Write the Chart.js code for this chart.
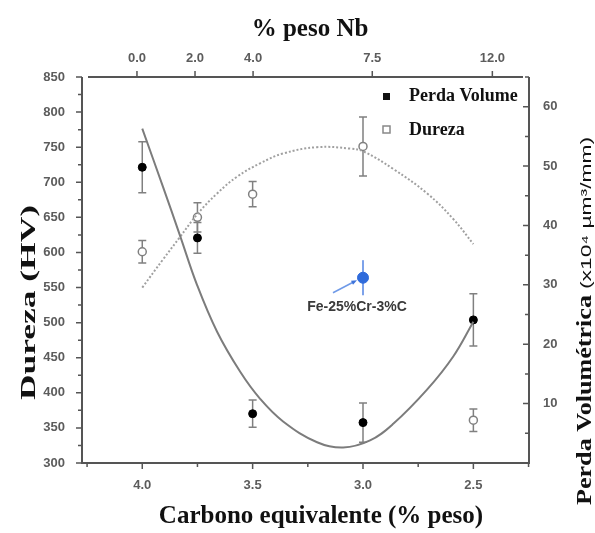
<!DOCTYPE html>
<html lang="pt">
<head>
<meta charset="UTF-8">
<title>Dureza e perda volumétrica vs carbono equivalente</title>
<script src="https://cdn.jsdelivr.net/npm/chart.js"></script>
<style>
  body { margin: 0; background: #fff; }
  canvas { display: block; }
</style>
</head>
<body>
<canvas id="grafico" width="595" height="533"></canvas>
<script>
// ligas ensaiadas: carbono equivalente (% peso)
const carbono = [4.0, 3.75, 3.5, 3.0, 2.5];
const perdaVolume = [49.8, 37.9, 8.3, 6.8, 24.1];   // x10^4 µm³/mm
const perdaErro = [4.3, 2.6, 2.3, 3.3, 4.4];
const dureza = [601, 650, 683, 751, 361];            // HV
const durezaErro = [16, 21, 18, 42, 16];

// liga de referência Fe-25%Cr-3%C
const refCarbono = [3.0];
const refDureza = [564];
const refErro = [25];

// curvas de ajuste
const ajustePerdaC = [4.0, 3.906, 3.829, 3.752, 3.661, 3.557, 3.466, 3.362, 3.208, 3.09, 2.968, 2.863, 2.709, 2.592, 2.5];
const ajustePerda = [56.3, 46.5, 38.3, 30.0, 22.1, 15.4, 10.8, 7.0, 3.5, 2.6, 3.8, 6.6, 12.4, 17.9, 23.8];
const ajusteDurezaC = [4.0, 3.906, 3.829, 3.752, 3.661, 3.57, 3.466, 3.362, 3.208, 3.058, 2.998, 2.863, 2.709, 2.592, 2.5];
const ajusteDureza = [550, 590, 622, 654, 684, 708, 727, 741, 750, 748, 744, 719, 684, 648, 612];

// eixos
const carbonoTicks = [4.0, 3.5, 3.0, 2.5];
const carbonoMenores = [4.25, 3.75, 3.25, 2.75, 2.25];
const nbRotulos = ['0.0', '2.0', '4.0', '7.5', '12.0'];
const nbCarbono = [4.024, 3.761, 3.498, 2.958, 2.414];
const durezaTicks = [300, 350, 400, 450, 500, 550, 600, 650, 700, 750, 800, 850];
const perdaTicks = [10, 20, 30, 40, 50, 60];
const perdaMenores = [5, 15, 25, 35, 45, 55, 65];

const pares = (xs, ys) => xs.map((x, i) => ({ x: x, y: ys[i] }));

const fonteTick = { family: 'Liberation Sans', size: 13, weight: 'bold' };
const corTick = '#5c5c5c';

// moldura e marcas dos eixos
const eixos = {
  id: 'eixos',
  beforeDatasetsDraw(chart) {
    const { ctx, chartArea: a, scales } = chart;
    ctx.save();
    ctx.strokeStyle = '#555';
    ctx.lineWidth = 2;
    ctx.beginPath();
    ctx.moveTo(a.left, a.top); ctx.lineTo(a.left, a.bottom);
    ctx.lineTo(a.right, a.bottom); ctx.lineTo(a.right, a.top);
    ctx.moveTo(a.left + 6, a.top); ctx.lineTo(a.right - 6, a.top);
    ctx.stroke();

    ctx.lineWidth = 1.5;
    ctx.beginPath();
    const marca = (x1, y1, x2, y2) => { ctx.moveTo(x1, y1); ctx.lineTo(x2, y2); };
    durezaTicks.forEach((v, i) => {
      const y = scales.y.getPixelForValue(v);
      marca(a.left, y, a.left - 6, y);
      if (i > 0) {
        const ym = scales.y.getPixelForValue((v + durezaTicks[i - 1]) / 2);
        marca(a.left, ym, a.left - 4, ym);
      }
    });
    perdaTicks.forEach(v => {
      const y = scales.y2.getPixelForValue(v);
      marca(a.right, y, a.right - 6, y);
    });
    perdaMenores.forEach(v => {
      const y = scales.y2.getPixelForValue(v);
      marca(a.right, y, a.right - 4, y);
    });
    carbonoTicks.forEach(v => {
      const x = scales.x.getPixelForValue(v);
      marca(x, a.bottom, x, a.bottom + 6);
    });
    carbonoMenores.forEach(v => {
      const x = scales.x.getPixelForValue(v);
      marca(x, a.bottom, x, a.bottom + 4);
    });
    nbCarbono.forEach(v => {
      const x = scales.x2.getPixelForValue(v);
      marca(x, a.top, x, a.top - 6);
    });
    ctx.stroke();
    ctx.restore();
  }
};

// barras de erro verticais
const barrasErro = {
  id: 'barrasErro',
  beforeDatasetsDraw(chart) {
    const ctx = chart.ctx;
    const sx = chart.scales.x;
    chart.data.datasets.forEach(ds => {
      if (!ds.erro) return;
      const sy = chart.scales[ds.yAxisID];
      ctx.save();
      ctx.strokeStyle = ds.corErro;
      ctx.lineWidth = ds.larguraErro;
      ctx.beginPath();
      ds.data.forEach((p, j) => {
        const x = sx.getPixelForValue(p.x);
        const y1 = sy.getPixelForValue(p.y + ds.erro[j]);
        const y2 = sy.getPixelForValue(p.y - ds.erro[j]);
        ctx.moveTo(x, y1); ctx.lineTo(x, y2);
        if (ds.capa) {
          ctx.moveTo(x - ds.capa, y1); ctx.lineTo(x + ds.capa, y1);
          ctx.moveTo(x - ds.capa, y2); ctx.lineTo(x + ds.capa, y2);
        }
      });
      ctx.stroke();
      ctx.restore();
    });
  }
};

function textoVertical(ctx, texto, fonte, xBase, yInicio, comprimento) {
  ctx.save();
  ctx.font = fonte;
  const w = ctx.measureText(texto).width;
  ctx.translate(xBase, yInicio);
  ctx.rotate(-Math.PI / 2);
  ctx.scale(comprimento / w, 1);
  ctx.textAlign = 'left';
  ctx.textBaseline = 'alphabetic';
  ctx.fillText(texto, 0, 0);
  ctx.restore();
}

// títulos, legenda e anotação da liga de referência
const textos = {
  id: 'textos',
  afterDraw(chart) {
    const { ctx, scales } = chart;
    ctx.save();
    ctx.fillStyle = '#111';
    ctx.font = 'bold 25px "Liberation Serif"';
    ctx.textAlign = 'center';
    ctx.textBaseline = 'alphabetic';
    ctx.fillText('% peso Nb', 310, 36);
    ctx.fillText('Carbono equivalente (% peso)', 321, 523);

    textoVertical(ctx, 'Dureza (HV)', 'bold 22px "Liberation Serif"', 35, 400, 195);
    textoVertical(ctx, 'Perda Volumétrica', 'bold 22px "Liberation Serif"', 591, 505, 210);
    textoVertical(ctx, '(x10⁴ µm³/mm)', '15px "Liberation Sans", "DejaVu Sans"', 591, 289, 152);

    // legenda
    ctx.textAlign = 'left';
    ctx.textBaseline = 'middle';
    ctx.font = 'bold 18px "Liberation Serif"';
    ctx.fillRect(383, 93, 7, 7);
    ctx.fillText('Perda Volume', 409, 96);
    ctx.strokeStyle = '#888';
    ctx.lineWidth = 1.5;
    ctx.strokeRect(383, 126, 7, 7);
    ctx.fillText('Dureza', 409, 130);

    // seta e rótulo Fe-25%Cr-3%C
    const px = scales.x.getPixelForValue(refCarbono[0]);
    const py = scales.y.getPixelForValue(refDureza[0]);
    ctx.strokeStyle = '#6f9ae8';
    ctx.fillStyle = '#3f74db';
    ctx.lineWidth = 1.5;
    ctx.beginPath();
    ctx.moveTo(px - 30, py + 15);
    ctx.lineTo(px - 9, py + 4);
    ctx.stroke();
    ctx.beginPath();
    ctx.moveTo(px - 6, py + 2.5);
    ctx.lineTo(px - 12, py + 3);
    ctx.lineTo(px - 10, py + 7);
    ctx.closePath();
    ctx.fill();

    ctx.fillStyle = '#3a3a3a';
    ctx.font = 'bold 14px "Liberation Sans"';
    ctx.textAlign = 'center';
    ctx.fillText('Fe-25%Cr-3%C', px - 6, py + 29);
    ctx.restore();
  }
};

new Chart(document.getElementById('grafico'), {
  type: 'scatter',
  data: {
    datasets: [
      {
        label: 'Ajuste perda',
        data: pares(ajustePerdaC, ajustePerda),
        yAxisID: 'y2',
        showLine: true,
        pointRadius: 0,
        borderColor: '#7c7c7c',
        borderWidth: 2,
        tension: 0.4
      },
      {
        label: 'Ajuste dureza',
        data: pares(ajusteDurezaC, ajusteDureza),
        yAxisID: 'y',
        showLine: true,
        pointRadius: 0,
        borderColor: '#a0a0a0',
        borderWidth: 2,
        borderDash: [2, 2],
        tension: 0.4
      },
      {
        label: 'Perda Volume',
        data: pares(carbono, perdaVolume),
        yAxisID: 'y2',
        pointRadius: 4,
        pointBackgroundColor: '#000',
        pointBorderColor: '#000',
        erro: perdaErro, corErro: '#808080', larguraErro: 1.5, capa: 4
      },
      {
        label: 'Dureza',
        data: pares(carbono, dureza),
        yAxisID: 'y',
        pointRadius: 4,
        pointBackgroundColor: '#fff',
        pointBorderColor: '#808080',
        pointBorderWidth: 1.5,
        erro: durezaErro, corErro: '#808080', larguraErro: 1.5, capa: 4
      },
      {
        label: 'Fe-25%Cr-3%C',
        data: pares(refCarbono, refDureza),
        yAxisID: 'y',
        pointRadius: 5.5,
        pointBackgroundColor: '#2f6bdb',
        pointBorderColor: '#2f6bdb',
        erro: refErro, corErro: '#7da2ea', larguraErro: 2, capa: 0
      }
    ]
  },
  options: {
    responsive: false,
    animation: false,
    layout: { padding: 0 },
    plugins: { legend: { display: false }, tooltip: { enabled: false } },
    scales: {
      x: {
        type: 'linear', position: 'bottom', reverse: true,
        min: 2.248, max: 4.273,
        grid: { display: false, drawTicks: false }, border: { display: false },
        afterBuildTicks: s => { s.ticks = carbonoTicks.map(v => ({ value: v })); },
        afterFit: s => { s.height = 70; },
        ticks: { font: fonteTick, color: corTick, padding: 15, autoSkip: false, maxRotation: 0,
                 callback: v => v.toFixed(1) }
      },
      x2: {
        type: 'linear', position: 'top', reverse: true,
        min: 2.248, max: 4.273,
        grid: { display: false, drawTicks: false }, border: { display: false },
        afterBuildTicks: s => { s.ticks = nbCarbono.map(v => ({ value: v })); },
        afterFit: s => { s.height = 77; },
        ticks: { font: fonteTick, color: corTick, padding: 11, autoSkip: false, maxRotation: 0,
                 callback: (v, i) => nbRotulos[i] }
      },
      y: {
        type: 'linear', position: 'left',
        min: 300, max: 850,
        grid: { display: false, drawTicks: false }, border: { display: false },
        afterBuildTicks: s => { s.ticks = durezaTicks.map(v => ({ value: v })); },
        afterFit: s => { s.width = 82; },
        ticks: { font: fonteTick, color: corTick, padding: 17, autoSkip: false }
      },
      y2: {
        type: 'linear', position: 'right',
        min: 0, max: 65,
        grid: { display: false, drawTicks: false }, border: { display: false },
        afterBuildTicks: s => { s.ticks = perdaTicks.map(v => ({ value: v })); },
        afterFit: s => { s.width = 66; },
        ticks: { font: fonteTick, color: corTick, padding: 14, autoSkip: false }
      }
    }
  },
  plugins: [eixos, barrasErro, textos]
});
</script>
</body>
</html>
